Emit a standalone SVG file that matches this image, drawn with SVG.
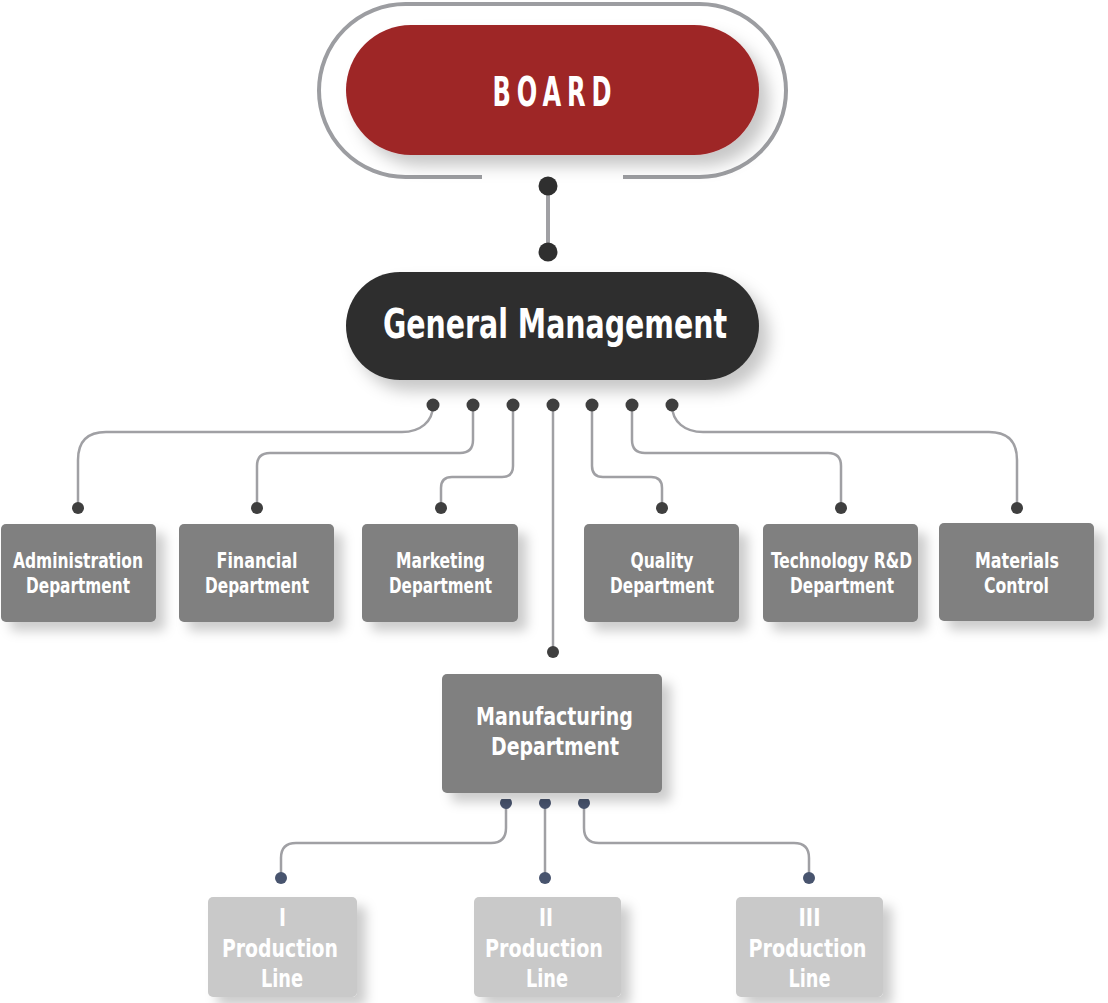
<svg xmlns="http://www.w3.org/2000/svg" width="1108" height="1003" viewBox="0 0 1108 1003">
<defs>
<filter id="sh" x="-20%" y="-20%" width="150%" height="160%">
<feDropShadow dx="10" dy="11" stdDeviation="8" flood-color="#000" flood-opacity="0.22"/>
</filter>
<filter id="shs" x="-20%" y="-20%" width="150%" height="160%">
<feDropShadow dx="9" dy="9" stdDeviation="6" flood-color="#000" flood-opacity="0.2"/>
</filter>
</defs>
<style>
text{font-family:"Liberation Sans Narrow","DejaVu Sans Condensed","Liberation Sans",sans-serif;font-weight:bold;fill:#fff;text-anchor:middle}
.t20{font-size:21px}
.t23{font-size:24px}
.t25{font-size:25px}
.con{fill:none;stroke:#a0a0a4;stroke-width:2.5}
.dot{fill:#3f3f3f}
.ndot{fill:#48546e}
.dept{fill:#808080}
.prod{fill:#c9c9c9}
</style>

<g id="connectors">
<path d="M482,177 L405.5,177 A86.5,86.5 0 0 1 405.5,4 L699.5,4 A86.5,86.5 0 0 1 699.5,177 L623,177" fill="none" stroke="#9c9da1" stroke-width="4"/>
<line x1="548" y1="186" x2="548" y2="252" stroke="#a0a0a4" stroke-width="4"/>
<circle cx="548" cy="186" r="9.5" fill="#2f2f2f"/>
<circle cx="548" cy="252" r="9.5" fill="#2f2f2f"/>

<path class="con" d="M433,405 C433,422 420,432 402,432 L106,432 Q78,432 78,460 L78,507"/>
<path class="con" d="M473,405 L473,440 Q473,453 460,453 L270,453 Q257,453 257,466 L257,507"/>
<path class="con" d="M513,405 L513,466 Q513,477 502,477 L452,477 Q441,477 441,488 L441,507"/>
<path class="con" d="M553,405 L553,652"/>
<path class="con" d="M592,405 L592,466 Q592,477 603,477 L651,477 Q662,477 662,488 L662,507"/>
<path class="con" d="M632,405 L632,440 Q632,453 645,453 L828,453 Q841,453 841,466 L841,507"/>
<path class="con" d="M672,405 C672,422 685,432 703,432 L989,432 Q1017,432 1017,460 L1017,507"/>

<circle class="dot" cx="433" cy="405" r="6.5"/>
<circle class="dot" cx="473" cy="405" r="6.5"/>
<circle class="dot" cx="513" cy="405" r="6.5"/>
<circle class="dot" cx="553" cy="405" r="6.5"/>
<circle class="dot" cx="592" cy="405" r="6.5"/>
<circle class="dot" cx="632" cy="405" r="6.5"/>
<circle class="dot" cx="672" cy="405" r="6.5"/>

<circle class="dot" cx="78" cy="508" r="6"/>
<circle class="dot" cx="257" cy="508" r="6"/>
<circle class="dot" cx="441" cy="508" r="6"/>
<circle class="dot" cx="662" cy="508" r="6"/>
<circle class="dot" cx="841" cy="508" r="6"/>
<circle class="dot" cx="1017" cy="508" r="6"/>
<circle class="dot" cx="553" cy="652" r="6"/>

<path class="con" d="M506,800 L506,828 Q506,843 491,843 L296,843 Q281,843 281,858 L281,877"/>
<path class="con" d="M545,800 L545,877"/>
<path class="con" d="M584,800 L584,828 Q584,843 599,843 L794,843 Q809,843 809,858 L809,877"/>

<path class="ndot" d="M501.5,799 A6,6 0 1 0 510.5,799 Z"/>
<path class="ndot" d="M540.5,799 A6,6 0 1 0 549.5,799 Z"/>
<path class="ndot" d="M579.5,799 A6,6 0 1 0 588.5,799 Z"/>
<circle class="ndot" cx="281" cy="878" r="6"/>
<circle class="ndot" cx="545" cy="878" r="6"/>
<circle class="ndot" cx="809" cy="878" r="6"/>
</g>

<g id="board">
<rect x="346" y="25" width="413" height="130" rx="65" fill="#9e2527" filter="url(#sh)"/>
<text x="555" y="106" style="font-size:41px;letter-spacing:9px" textLength="125" lengthAdjust="spacingAndGlyphs">BOARD</text>
</g>

<g id="general-management">
<rect x="346" y="272" width="413" height="108" rx="54" fill="#2f2f2f" filter="url(#sh)"/>
<text x="555" y="338" style="font-size:41px" textLength="344" lengthAdjust="spacingAndGlyphs">General Management</text>
</g>

<g id="administration">
<rect class="dept" x="1" y="524" width="155" height="98" rx="5" filter="url(#shs)"/>
<text class="t20" x="78" y="568" textLength="130" lengthAdjust="spacingAndGlyphs">Administration</text>
<text class="t20" x="78" y="593" textLength="104" lengthAdjust="spacingAndGlyphs">Department</text>
</g>

<g id="financial">
<rect class="dept" x="179" y="524" width="155" height="98" rx="5" filter="url(#shs)"/>
<text class="t20" x="257" y="568" textLength="81" lengthAdjust="spacingAndGlyphs">Financial</text>
<text class="t20" x="257" y="593" textLength="104" lengthAdjust="spacingAndGlyphs">Department</text>
</g>

<g id="marketing">
<rect class="dept" x="362" y="524" width="156" height="98" rx="5" filter="url(#shs)"/>
<text class="t20" x="440.5" y="568" textLength="89" lengthAdjust="spacingAndGlyphs">Marketing</text>
<text class="t20" x="440.5" y="593" textLength="103" lengthAdjust="spacingAndGlyphs">Department</text>
</g>

<g id="quality">
<rect class="dept" x="584" y="524" width="155" height="98" rx="5" filter="url(#shs)"/>
<text class="t20" x="662" y="568" textLength="63" lengthAdjust="spacingAndGlyphs">Quality</text>
<text class="t20" x="662" y="593" textLength="104" lengthAdjust="spacingAndGlyphs">Department</text>
</g>

<g id="technology">
<rect class="dept" x="763" y="524" width="155" height="98" rx="5" filter="url(#shs)"/>
<text class="t20" x="841.5" y="568" textLength="141" lengthAdjust="spacingAndGlyphs">Technology R&amp;D</text>
<text class="t20" x="842" y="593" textLength="104" lengthAdjust="spacingAndGlyphs">Department</text>
</g>

<g id="materials">
<rect class="dept" x="939" y="523" width="155" height="98" rx="5" filter="url(#shs)"/>
<text class="t20" x="1017" y="568" textLength="84" lengthAdjust="spacingAndGlyphs">Materials</text>
<text class="t20" x="1016.5" y="593" textLength="65" lengthAdjust="spacingAndGlyphs">Control</text>
</g>

<g id="manufacturing">
<rect class="dept" x="442" y="674" width="220" height="119" rx="5" filter="url(#shs)"/>
<text class="t23" x="554.5" y="725" textLength="157" lengthAdjust="spacingAndGlyphs">Manufacturing</text>
<text class="t23" x="555" y="755" textLength="128" lengthAdjust="spacingAndGlyphs">Department</text>
</g>

<g id="line-1">
<rect class="prod" x="208" y="897" width="149" height="100" rx="5" filter="url(#shs)"/>
<text class="t25" x="282.5" y="926" textLength="7" lengthAdjust="spacingAndGlyphs">I</text>
<text class="t25" x="280" y="957" textLength="116" lengthAdjust="spacingAndGlyphs">Production</text>
<text class="t25" x="282" y="987" textLength="42" lengthAdjust="spacingAndGlyphs">Line</text>
</g>

<g id="line-2">
<rect class="prod" x="474" y="897" width="147" height="100" rx="5" filter="url(#shs)"/>
<text class="t25" x="546" y="926" textLength="14" lengthAdjust="spacingAndGlyphs">II</text>
<text class="t25" x="544" y="957" textLength="118" lengthAdjust="spacingAndGlyphs">Production</text>
<text class="t25" x="547" y="987" textLength="42" lengthAdjust="spacingAndGlyphs">Line</text>
</g>

<g id="line-3">
<rect class="prod" x="736" y="897" width="147" height="100" rx="5" filter="url(#shs)"/>
<text class="t25" x="809.5" y="926" textLength="22" lengthAdjust="spacingAndGlyphs">III</text>
<text class="t25" x="807.5" y="957" textLength="118" lengthAdjust="spacingAndGlyphs">Production</text>
<text class="t25" x="809.5" y="987" textLength="42" lengthAdjust="spacingAndGlyphs">Line</text>
</g>
</svg>
